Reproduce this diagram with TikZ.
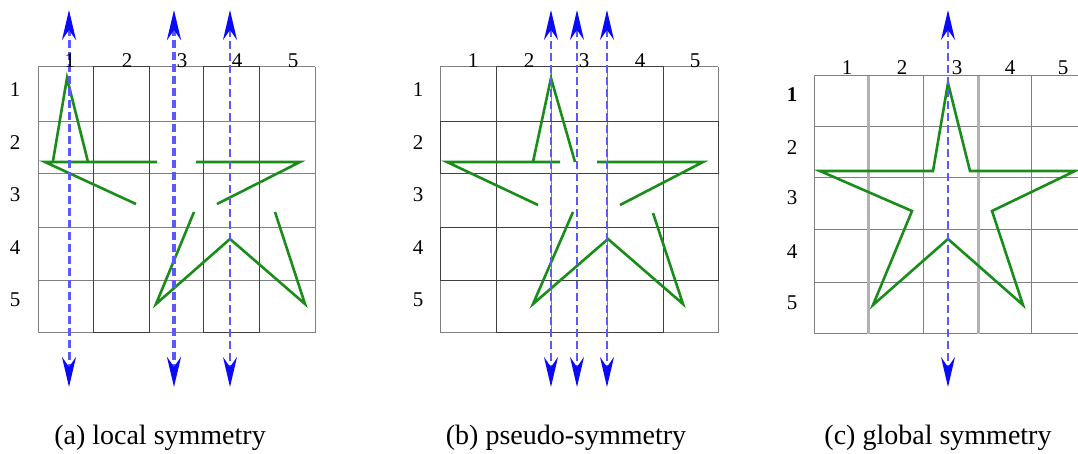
\documentclass[tikz,border=0pt]{standalone}
\usepackage{fontspec}
\setmainfont{Liberation Serif}
\usetikzlibrary{arrows.meta, positioning}
\definecolor{stargreen}{RGB}{25, 140, 25}
\definecolor{axisblue}{RGB}{90, 90, 250}
\definecolor{tipblue}{RGB}{10, 10, 250}

\begin{document}
\begin{tikzpicture}[x=0.5pt, y=-0.5pt,
  gridline/.style={draw=black!50, line width=0.5pt},
  darkline/.style={draw=black!75, line width=0.5pt},
  paleline/.style={draw=black!30, line width=1.5pt},
  starline/.style={draw=stargreen, line width=1.3pt, line join=miter},
  axis/.style={draw=axisblue, dash pattern=on 4pt off 2pt,
    {Stealth[length=15pt, width=7pt, inset=5pt, color=tipblue]}-{Stealth[length=15pt, width=7pt, inset=5pt, color=tipblue]}},
  num/.style={font=\fontsize{10.5}{12}\selectfont},
  caption/.style={font=\fontsize{14}{16}\selectfont}
]
  \useasboundingbox (0,0) rectangle (1078,454);

  % Grids
  \foreach \x in {38,93,149,203,259,315} \draw[gridline] (\x,67) -- (\x,333);
  \foreach \y in {67,122,174,228,281,333} \draw[gridline] (38,\y) -- (315,\y);
  \draw[darkline] (93,67) rectangle (149,333);
  \draw[darkline] (203,67) rectangle (259,333);

  \foreach \x in {440,496,551,607,663,718} \draw[gridline] (\x,67) -- (\x,333);
  \foreach \y in {67,122,174,228,281,333} \draw[gridline] (440,\y) -- (718,\y);
  \draw[darkline] (440,122) rectangle (718,174);
  \draw[darkline] (440,228) rectangle (718,281);
  \draw[darkline] (496,67) rectangle (663,333);

  \foreach \x in {814,923,1031} \draw[gridline] (\x,76) -- (\x,334);
  \foreach \y in {76,127,178,230,283,334} \draw[gridline] (814,\y) -- (1078,\y);
  \foreach \x in {868,978} \draw[paleline] (\x,76) -- (\x,334);

  % Stars
  \draw[starline] (53,161) -- (67,78) -- (88,162);
  \draw[starline] (157,162) -- (45,162) -- (136,204);
  \draw[starline] (196,162) -- (300,162) -- (217,204);
  \draw[starline] (194,212) -- (156,304) -- (230,239) -- (305,304) -- (275,212);

  \draw[starline] (533,162) -- (551,78) -- (575,162);
  \draw[starline] (560,162) -- (447,162) -- (538,205);
  \draw[starline] (597,162) -- (703,162) -- (620,205);
  \draw[starline] (573,212) -- (533,304) -- (608,239) -- (683,304) -- (653,213);

  \draw[starline] (948,83) -- (970,171) -- (1075,171) -- (992,211) -- (1023,305)
    -- (948,239) -- (873,305) -- (912,211) -- (820,171) -- (933,171) -- cycle;

  % Axes
  \foreach \x/\w [count=\k] in {69/1.5, 174/2, 230/0.8, 551/1, 577/0.8, 607/0.8, 948/0.7} {
    \coordinate (top\k) at (\x,10);
    \coordinate (bot\k) at (\x,387);
    \draw[axis, line width=\w pt] (top\k) -- (bot\k);
  }

  % Labels
  \foreach \x [count=\n] in {70,127,182,237,293} \node[num] (acol\n) at (\x,61) {\n};
  \foreach \y [count=\n] in {90,143,195,248,300} \node[num] (arow\n) at (15,\y) {\n};
  \foreach \x [count=\n] in {473,529,584,640,695} \node[num] (bcol\n) at (\x,61) {\n};
  \foreach \y [count=\n] in {90,143,195,248,300} \node[num] (brow\n) at (418,\y) {\n};
  \foreach \x [count=\n] in {847,902,957,1010,1063} \node[num] (ccol\n) at (\x,68) {\n};
  \node[num, font=\fontsize{10.5}{12}\selectfont\bfseries] (crow1) at (792,95) {1};
  \foreach \y [count=\n from 2] in {148,198,252,303} \node[num] (crow\n) at (792,\y) {\n};

  \node[caption] (capa) at (160,438) {(a) local symmetry};
  \node[caption] (capb) at (566,438) {(b) pseudo-symmetry};
  \node[caption] (capc) at (938,438) {(c) global symmetry};
\end{tikzpicture}
\end{document}
